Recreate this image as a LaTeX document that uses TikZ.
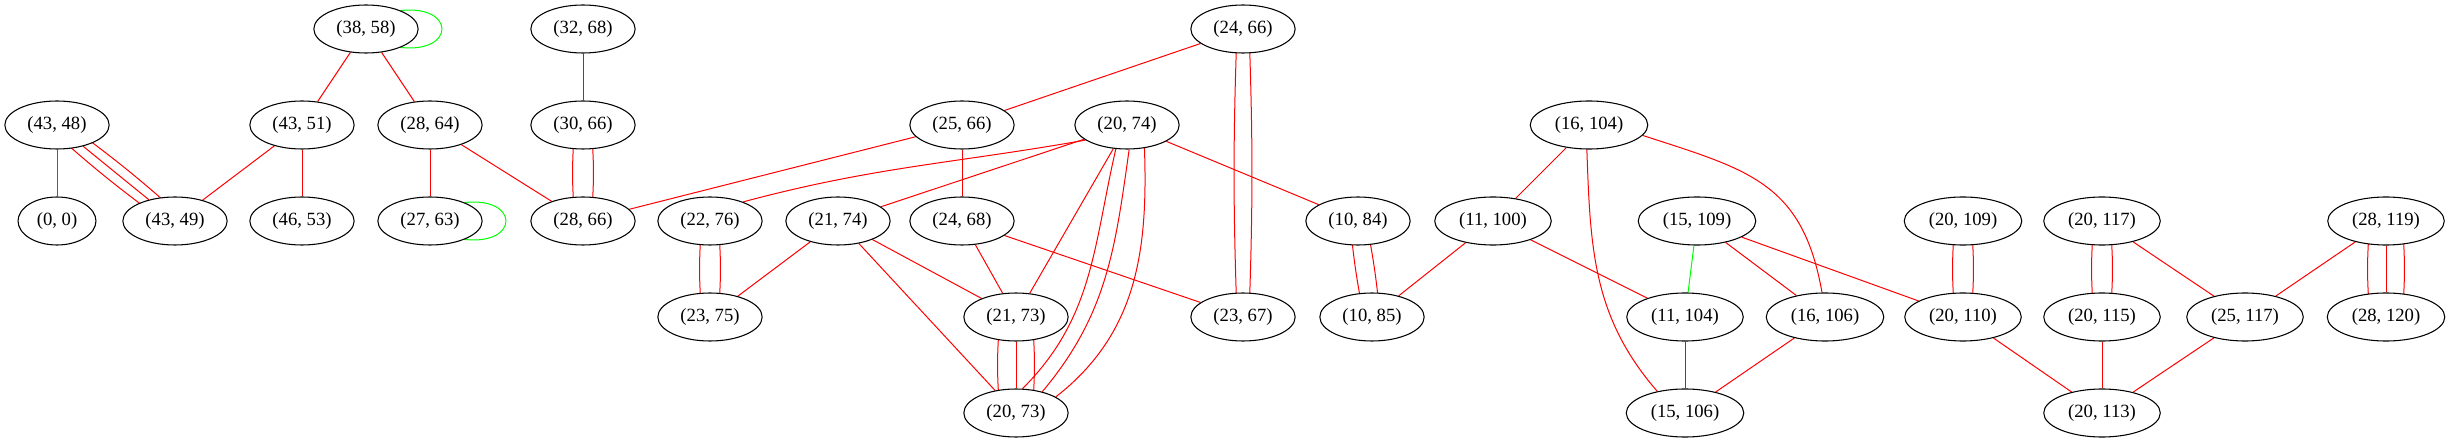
\documentclass[tikz,border=0pt]{standalone}
\usepackage{fontspec}
\setmainfont{Liberation Serif}
\usetikzlibrary{shapes.geometric,backgrounds}
\definecolor{gvred}{RGB}{255,0,0}
\definecolor{gvgreen}{RGB}{0,255,0}
\definecolor{gvpurple}{RGB}{160,32,240}
\begin{document}
\begin{tikzpicture}[x=0.75pt,y=0.75pt,%
  % common options for the ellipses:
  pair/.style = {ellipse, draw, fill=white, line width=0.8pt, inner xsep=5.5pt,
              inner ysep=2pt, minimum height=36pt, font=\fontsize{14}{16}\selectfont},
  % common options for the edges:
  redge/.style = {draw=gvred, line width=0.75pt},
  gedge/.style = {draw=gvgreen, line width=0.75pt},
  pedge/.style = {draw=gvpurple, line width=0.75pt}]
\useasboundingbox (0,0) rectangle (2449,443);
\node[pair] (n38x58) at (366,414) {(38, 58)};
\node[pair] (n32x68) at (583,414) {(32, 68)};
\node[pair] (n24x66) at (1243,414) {(24, 66)};
\node[pair] (n43x48) at (57,318) {(43, 48)};
\node[pair] (n43x51) at (302,318) {(43, 51)};
\node[pair] (n28x64) at (430,318) {(28, 64)};
\node[pair] (n30x66) at (583,318) {(30, 66)};
\node[pair] (n25x66) at (962,318) {(25, 66)};
\node[pair] (n20x74) at (1127,318) {(20, 74)};
\node[pair] (n16x104) at (1589,318) {(16, 104)};
\node[pair] (n0x0) at (57,222) {(0, 0)};
\node[pair] (n43x49) at (175,222) {(43, 49)};
\node[pair] (n46x53) at (302,222) {(46, 53)};
\node[pair] (n27x63) at (430,222) {(27, 63)};
\node[pair] (n28x66) at (583,222) {(28, 66)};
\node[pair] (n22x76) at (710,222) {(22, 76)};
\node[pair] (n21x74) at (838,222) {(21, 74)};
\node[pair] (n24x68) at (962,222) {(24, 68)};
\node[pair] (n10x84) at (1358,222) {(10, 84)};
\node[pair] (n11x100) at (1493,222) {(11, 100)};
\node[pair] (n15x109) at (1697,222) {(15, 109)};
\node[pair] (n20x109) at (1963,222) {(20, 109)};
\node[pair] (n20x117) at (2102,222) {(20, 117)};
\node[pair] (n28x119) at (2386,222) {(28, 119)};
\node[pair] (n23x75) at (710,126) {(23, 75)};
\node[pair] (n21x73) at (1016,126) {(21, 73)};
\node[pair] (n23x67) at (1243,126) {(23, 67)};
\node[pair] (n10x85) at (1372,126) {(10, 85)};
\node[pair] (n11x104) at (1685,126) {(11, 104)};
\node[pair] (n16x106) at (1825,126) {(16, 106)};
\node[pair] (n20x110) at (1963,126) {(20, 110)};
\node[pair] (n20x115) at (2102,126) {(20, 115)};
\node[pair] (n25x117) at (2245,126) {(25, 117)};
\node[pair] (n28x120) at (2386,126) {(28, 120)};
\node[pair] (n20x73) at (1016,30) {(20, 73)};
\node[pair] (n15x106) at (1685,30) {(15, 106)};
\node[pair] (n20x113) at (2102,30) {(20, 113)};
\begin{scope}[on background layer]
% edges leaving the top row
\draw[gedge] (n38x58.28) .. controls +(55,6) and +(55,-6) .. (n38x58.-28);
\draw[redge] (n38x58) to (n43x51);
\draw[redge] (n38x58) to (n28x64);
\draw[redge] (n32x68) to (n30x66);
\draw[redge] (n24x66) to (n25x66);
\draw[redge] ([xshift=-4.5pt]n24x66.center) to[bend right=2] ([xshift=-4.5pt]n23x67.center);
\draw[redge] ([xshift=4.5pt]n24x66.center) to[bend left=2] ([xshift=4.5pt]n23x67.center);
% edges leaving the second row
\draw[pedge] (n43x48) to (n0x0);
\draw[redge] ([xshift=-8.6pt]n43x48.center) to[bend right=3] ([xshift=-8.6pt]n43x49.center);
\draw[redge] (n43x48) to (n43x49);
\draw[redge] ([xshift=8.6pt]n43x48.center) to[bend left=3] ([xshift=8.6pt]n43x49.center);
\draw[redge] (n43x51) to (n43x49);
\draw[redge] (n43x51) to (n46x53);
\draw[redge] (n28x64) to (n27x63);
\draw[redge] (n28x64) to (n28x66);
\draw[redge] ([xshift=-6pt]n30x66.center) to[bend right=5] ([xshift=-6pt]n28x66.center);
\draw[redge] ([xshift=6pt]n30x66.center) to[bend left=5] ([xshift=6pt]n28x66.center);
\draw[redge] (n25x66) to (n28x66);
\draw[redge] (n25x66) to (n24x68);
\draw[redge] (n20x74.200) to[out=190,in=15] (n22x76.30);
\draw[redge] (n20x74) to (n21x74);
\draw[redge] (n20x74) to (n10x84);
\draw[redge] (n20x74) to (n21x73);
\draw[redge] (n20x74.245) to[out=257,in=45] (n20x73.75);
\draw[redge] (n20x74.275) to[out=262,in=50] (n20x73.39);
\draw[redge] (n20x74.307) to[out=272,in=38] (n20x73.22);
\draw[redge] (n16x104) to (n11x100);
\draw[redge] (n16x104.265) to[out=272,in=131] (n15x106.142);
\draw[redge] (n16x104.-11) to[out=-18,in=100,looseness=1.2] (n16x106.97);
% edges leaving the third row
\draw[gedge] (n27x63.28) .. controls +(55,6) and +(55,-6) .. (n27x63.-28);
\draw[redge] ([xshift=-6pt]n22x76.center) to[bend right=5] ([xshift=-6pt]n23x75.center);
\draw[redge] ([xshift=6pt]n22x76.center) to[bend left=5] ([xshift=6pt]n23x75.center);
\draw[redge] (n21x74) to (n23x75);
\draw[redge] (n21x74) to (n21x73);
\draw[redge] (n21x74) to (n20x73);
\draw[redge] (n24x68) to (n21x73);
\draw[redge] (n24x68) to (n23x67);
\draw[redge] ([xshift=-6pt]n10x84.center) to[bend right=3] ([xshift=-6pt]n10x85.center);
\draw[redge] ([xshift=6pt]n10x84.center) to[bend left=3] ([xshift=6pt]n10x85.center);
\draw[redge] (n11x100) to (n10x85);
\draw[redge] (n11x100) to (n11x104);
\draw[gedge] (n15x109) to (n11x104);
\draw[redge] (n15x109) to (n16x106);
\draw[redge] (n15x109) to (n20x110);
\draw[redge] ([xshift=-6pt]n20x109.center) to[bend right=5] ([xshift=-6pt]n20x110.center);
\draw[redge] ([xshift=6pt]n20x109.center) to[bend left=5] ([xshift=6pt]n20x110.center);
\draw[redge] ([xshift=-6pt]n20x117.center) to[bend right=5] ([xshift=-6pt]n20x115.center);
\draw[redge] ([xshift=6pt]n20x117.center) to[bend left=5] ([xshift=6pt]n20x115.center);
\draw[redge] (n20x117) to (n25x117);
\draw[redge] (n28x119) to (n25x117);
\draw[redge] ([xshift=-12pt]n28x119.center) to[bend right=5] ([xshift=-12pt]n28x120.center);
\draw[redge] (n28x119) to (n28x120);
\draw[redge] ([xshift=12pt]n28x119.center) to[bend left=5] ([xshift=12pt]n28x120.center);
% edges leaving the fourth row
\draw[redge] ([xshift=-12pt]n21x73.center) to[bend right=5] ([xshift=-12pt]n20x73.center);
\draw[redge] (n21x73) to (n20x73);
\draw[redge] ([xshift=12pt]n21x73.center) to[bend left=5] ([xshift=12pt]n20x73.center);
\draw[redge] (n11x104) to (n15x106);
\draw[redge] (n16x106) to (n15x106);
\draw[redge] (n20x110) to (n20x113);
\draw[redge] (n20x115) to (n20x113);
\draw[redge] (n25x117) to (n20x113);
\end{scope}
\end{tikzpicture}
\end{document}
